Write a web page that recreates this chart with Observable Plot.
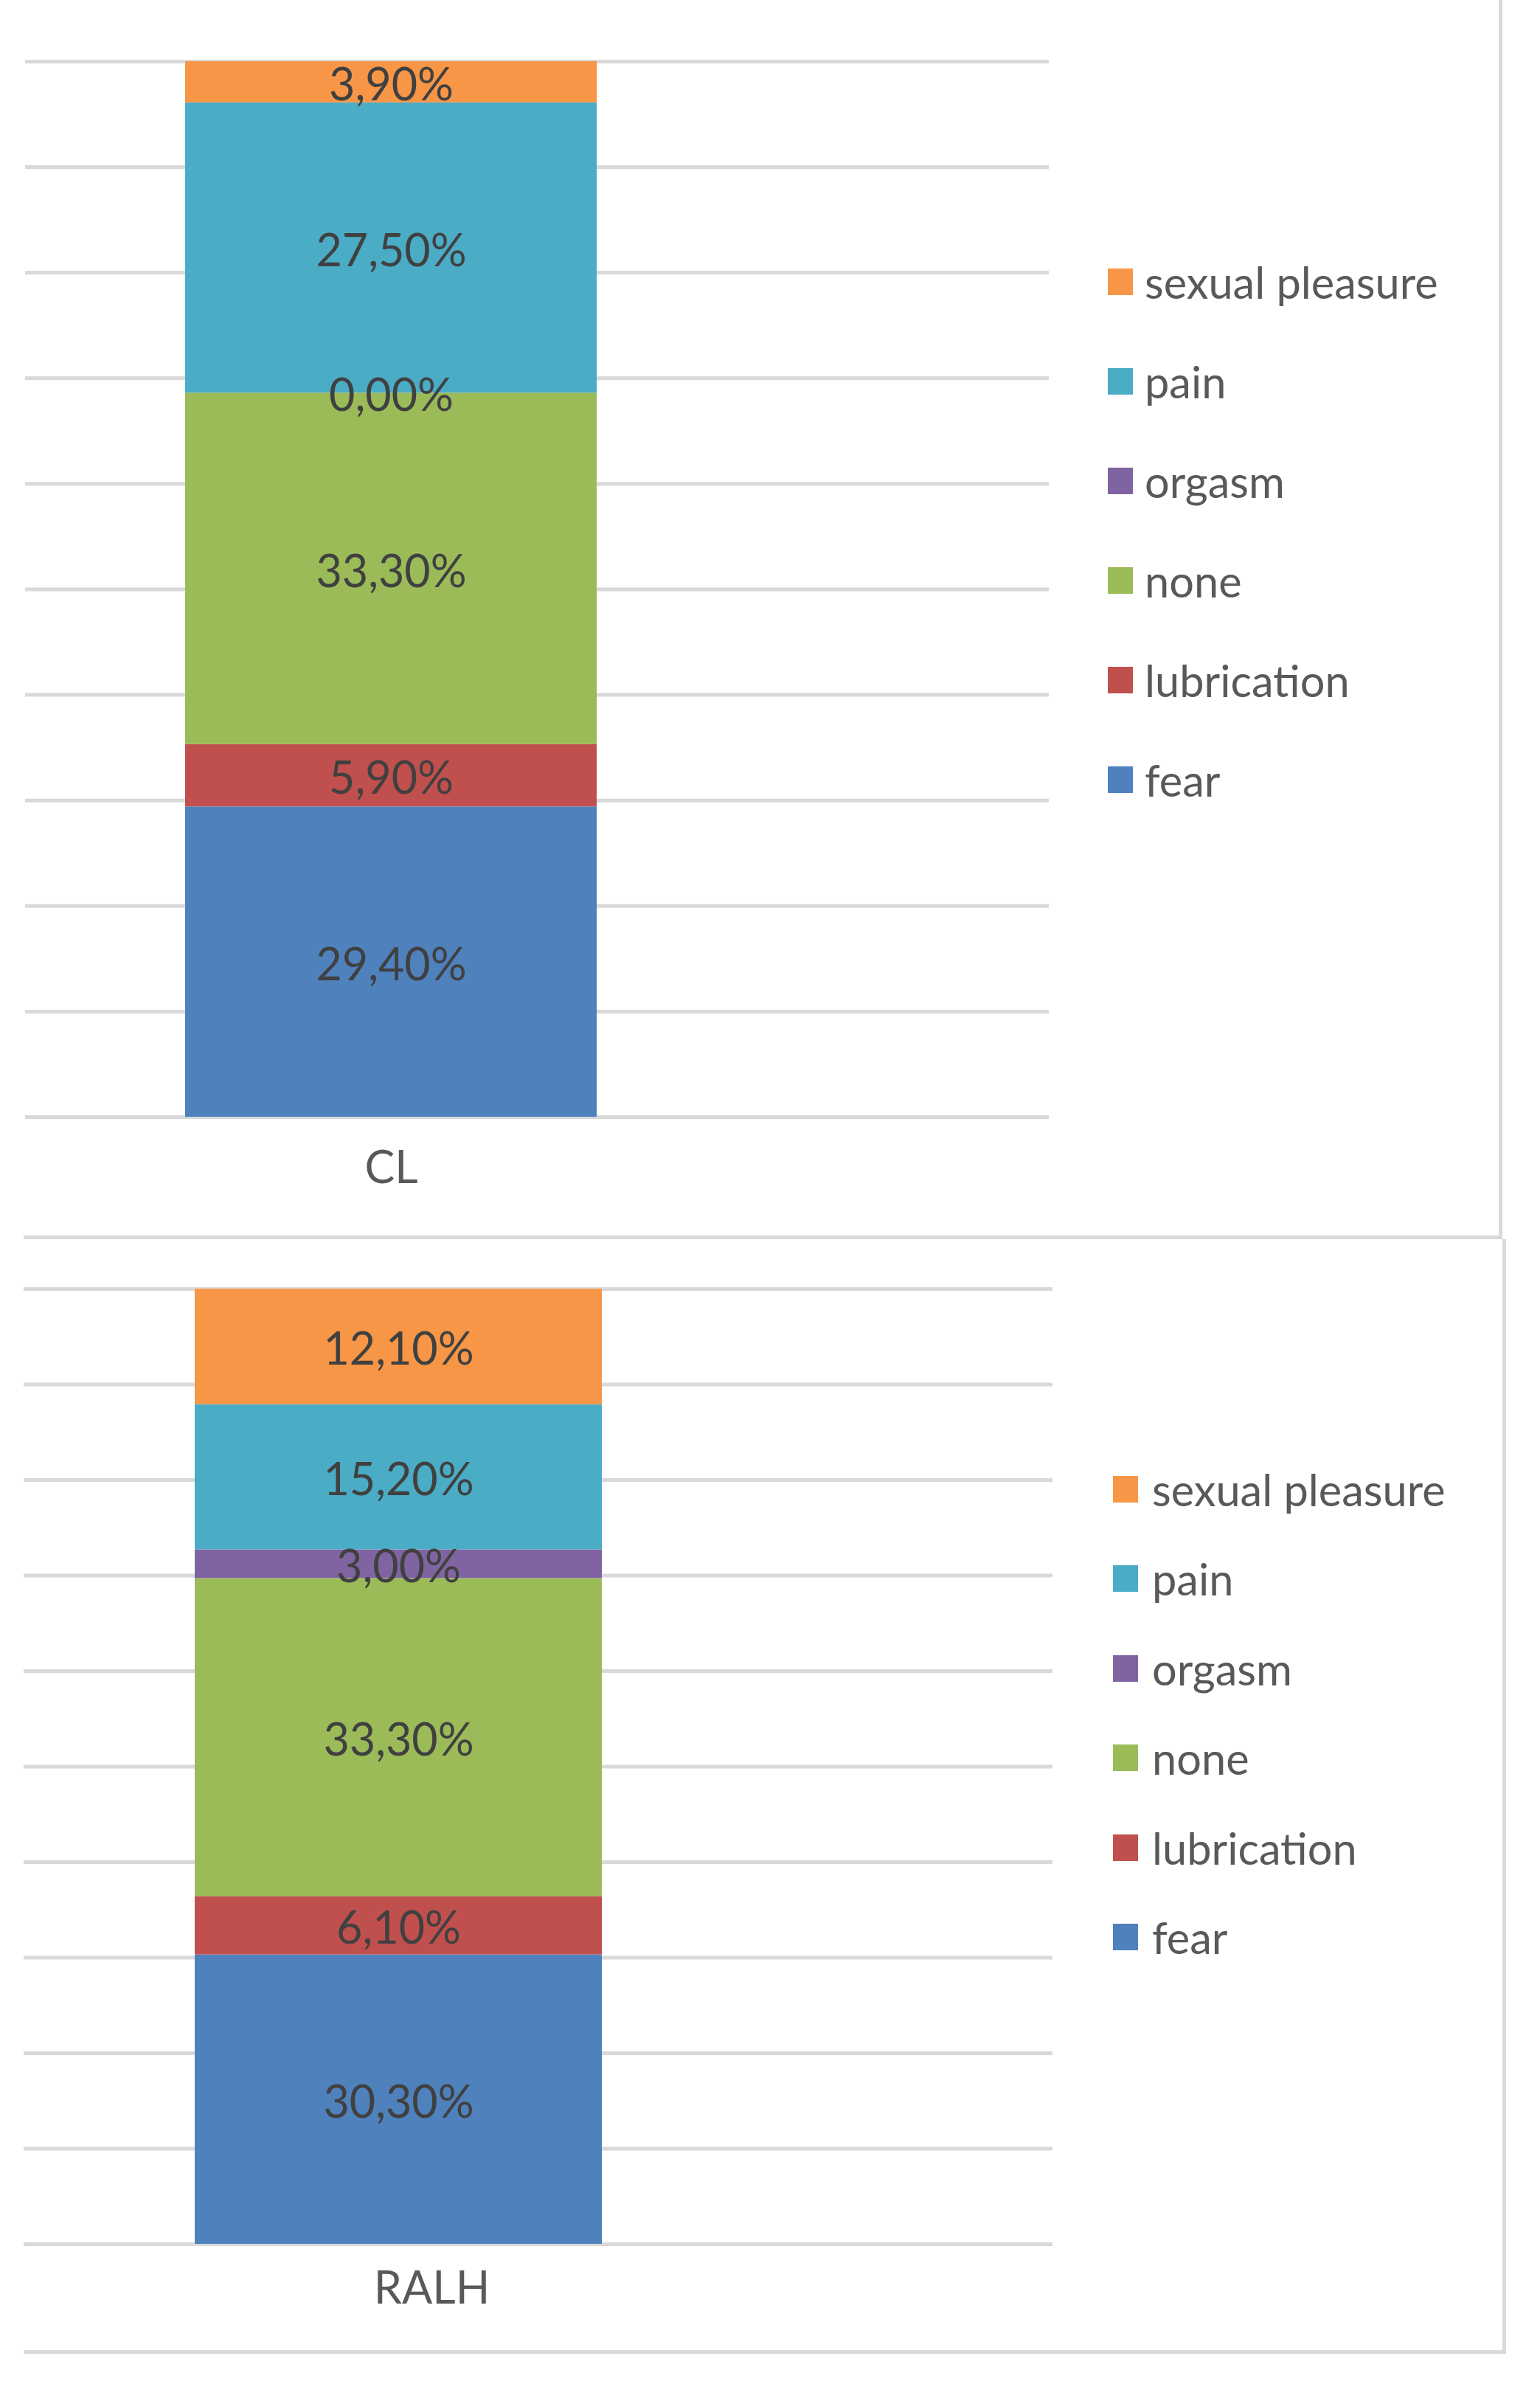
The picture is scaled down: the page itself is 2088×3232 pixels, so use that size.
<!DOCTYPE html>
<html><head><meta charset="utf-8">
<script src="https://cdn.jsdelivr.net/npm/d3@7"></script>
<script src="https://cdn.jsdelivr.net/npm/@observablehq/plot@0.6"></script>
<style>
html,body{margin:0;padding:0;background:#fff;}
body{width:2088px;height:3232px;position:relative;overflow:hidden;font-family:Lato,"Open Sans",sans-serif;}
.panel{position:absolute;left:32px;background:#fff;border-right:5px solid #d9d9d9;border-bottom:5px solid #d9d9d9;}
.panel svg{position:absolute;left:0;top:0;}
.row{position:absolute;display:flex;align-items:center;height:80px;white-space:nowrap;color:#595959;font-size:59.5px;line-height:80px;}
.sw{width:34px;height:36px;flex:none;}
</style></head><body>
<div id="p1" class="panel" style="top:0;width:2000px;height:1675px"></div>
<div id="p2" class="panel" style="top:1680px;width:2005px;height:1506px"></div>
<script>
const categories = ["fear", "lubrication", "none", "orgasm", "pain", "sexual pleasure"];
const colors = ["#4F81BD", "#C0504D", "#9BBB59", "#8064A2", "#4BACC6", "#F79646"];
const groups = ["CL", "RALH"];
const clValues = [29.4, 5.9, 33.3, 0.0, 27.5, 3.9];
const ralhValues = [30.3, 6.1, 33.3, 3.0, 15.2, 12.1];
const yTicks = [0, 10, 20, 30, 40, 50, 60, 70, 80, 90, 100];

const fmt = v => v.toFixed(2).replace(".", ",") + "%";

function chart(group, values, L) {
  const data = categories.map((c, i) => ({group, category: c, value: values[i]}));
  return Plot.plot({
    width: L.width, height: L.height,
    marginLeft: L.ml, marginRight: L.mr, marginTop: L.mt, marginBottom: L.mb,
    x: {domain: [group], range: L.bar, padding: 0, axis: null},
    y: {domain: [0, 100], axis: null},
    color: {domain: categories, range: colors},
    style: {fontFamily: "Lato, 'Open Sans', sans-serif", fontSize: "61px", color: "#595959", background: "transparent", overflow: "visible"},
    marks: [
      Plot.ruleY(yTicks, {stroke: "#d9d9d9", strokeWidth: 5}),
      Plot.barY(data, Plot.stackY({x: "group", y: "value", fill: "category"})),
      Plot.text(data, Plot.stackY({x: "group", y: "value", text: d => fmt(d.value), fill: "#404040", fontSize: 61, dy: 5})),
      Plot.axisX({tickSize: 0, tickPadding: L.pad, fontSize: 61, dx: L.dx, label: null})
    ]
  });
}

function legend(el, L) {
  const items = categories.slice().reverse();
  items.forEach((c, i) => {
    const row = document.createElement("div");
    row.className = "row";
    row.style.left = L.x + "px";
    row.style.top = (L.y0 + L.step * i - 40) + "px";
    const sw = document.createElement("div");
    sw.className = "sw";
    sw.style.background = colors[categories.indexOf(c)];
    sw.style.marginRight = L.gap + "px";
    const t = document.createElement("span");
    t.textContent = c;
    row.appendChild(sw);
    row.appendChild(t);
    el.appendChild(row);
  });
}

const p1 = document.getElementById("p1");
p1.appendChild(chart(groups[0], clValues, {width: 2000, height: 1675, ml: 2, mr: 610, mt: 83, mb: 161, bar: [219, 777], pad: 46, dx: 0}));
legend(p1, {x: 1470, y0: 382, step: 135, gap: 16});

const p2 = document.getElementById("p2");
p2.appendChild(chart(groups[1], ralhValues, {width: 2005, height: 1506, ml: 0, mr: 610, mt: 67, mb: 144, bar: [232, 784], pad: 37, dx: 45}));
legend(p2, {x: 1477, y0: 339, step: 121.4, gap: 19});
</script>
</body></html>
